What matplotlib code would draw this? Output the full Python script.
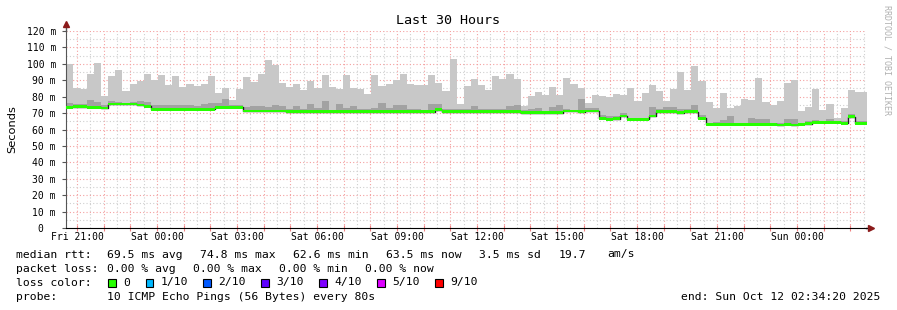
import matplotlib
matplotlib.use("Agg")
import matplotlib.pyplot as plt
from matplotlib.patches import Rectangle
import numpy as np

# smokeping style graph, 30 hours, 16 min consolidated steps
W, H = 897, 310
step_h = 16 / 60.0
span_h = 30.0
first_hour = 25 / 60 + 40 / 3600   # Fri 21:00 after start (Fri 20:34:20)

median = [73.5, 74, 74, 73.5, 73.5, 73.0, 75.6, 75.6, 75.6, 75.6, 75.0, 74.1,
          72.2, 72.2, 72.2, 72.2, 72.2, 72.2, 72.2, 72.2, 72.2, 73.5, 73.5, 73.5,
          73.5, 71.3, 71.3, 71.3, 71.3, 71.3, 71.3, 70.9, 70.9, 70.9, 70.9, 70.9,
          70.9, 70.9, 70.9, 70.9, 70.9, 70.9, 70.9, 70.9, 70.9, 70.9, 70.9, 70.9,
          70.9, 70.9, 70.9, 70.9, 72.0, 70.9, 70.9, 70.9, 70.9, 70.9, 70.9, 70.9,
          70.9, 70.9, 70.9, 70.9, 70.3, 70.3, 70.3, 70.3, 70.3, 70.3, 71.3, 71.3,
          70.9, 71.3, 71.3, 66.8, 66.2, 66.6, 68.2, 66.2, 66.2, 66.2, 68.2, 70.9,
          70.9, 70.9, 70.3, 70.9, 70.9, 66.8, 63.1, 63.1, 63.1, 63.1, 63.1, 63.1,
          63.1, 63.1, 63.1, 63.1, 62.7, 63.1, 62.7, 63.1, 63.6, 64.4, 64.4, 64.4,
          64.4, 63.8, 67.8, 63.8, 63.8]

rtt_max = [100, 85.5, 84.7, 93.8, 100.3, 80.2, 92.6, 96.2, 83.5, 87.7, 89.7, 93.8,
           90.2, 93.2, 87.1, 92.6, 85.9, 87.7, 86.5, 87.7, 92.6, 82.2, 85.5, 78,
           84.9, 92, 88.9, 93.8, 102.3, 99.3, 88.3, 85.9, 87.7, 84, 89.7, 85,
           93.2, 86.1, 84.7, 93.2, 85.5, 84.7, 81.6, 93.2, 86.5, 87.7, 90, 93.8,
           87.7, 87.1, 87.1, 93.2, 88.5, 83.7, 103.1, 75.5, 86.5, 91, 87.1, 84.3,
           92.6, 91, 93.8, 91, 74.5, 80.4, 83, 81, 85.9, 81, 91.6, 87.7,
           85, 76.1, 81, 80.4, 80, 81.6, 81, 85.3, 77.4, 82.2, 87.1, 83.5,
           77.4, 84.9, 95.2, 84, 98.7, 89.7, 76.7, 73.1, 82.2, 73.1, 74.1, 78.6,
           78, 91.4, 76.7, 74.9, 77.4, 88.3, 90.2, 71.1, 73.7, 84.9, 71.9, 75.5,
           67, 73.1, 84.3, 82.8, 82.8]

rtt_mid = [76, 75.5, 75.5, 78, 77, 75, 77.4, 76.8, 76.4, 76.8, 77.4, 76.8,
           75, 75.2, 75.2, 75.2, 74.7, 75.2, 74.3, 75.5, 76, 76, 78.8, 75.2,
           75.2, 74, 74.6, 74.6, 73.9, 75, 74.5, 72.5, 74.5, 72.5, 75.7, 73.3,
           77.6, 71.9, 75.5, 72.9, 74.5, 72.5, 72.5, 73.3, 76.3, 73.3, 75, 75,
           72.5, 72.5, 72.1, 75.5, 75.5, 72.5, 72.5, 72.5, 72.5, 74.5, 72.5, 72.5,
           72.5, 72.5, 74.5, 74.9, 71.9, 72.5, 73.1, 71.3, 74, 75.1, 72.5, 72.1,
           78.8, 73.3, 73.3, 68.8, 68.2, 68.2, 69.8, 67.2, 67.2, 67.2, 73.9, 72.5,
           74, 73.5, 72.5, 72.5, 75, 68.8, 64.1, 64.3, 65.8, 68.2, 64.1, 64.1,
           67, 66.4, 66.4, 64.1, 64.1, 66.4, 66.4, 64.1, 65.2, 65.8, 65.2, 66.4,
           65.2, 65.2, 69.4, 65.2, 65.2]

hour_labels = ["Fri 21:00", "Sat 00:00", "Sat 03:00", "Sat 06:00", "Sat 09:00",
               "Sat 12:00", "Sat 15:00", "Sat 18:00", "Sat 21:00", "Sun 00:00"]
ytick_vals = list(range(0, 121, 10))
ytick_labels = ["0  "] + ["%d m" % v for v in ytick_vals[1:]]

loss_names = ["0", "1/10", "2/10", "3/10", "4/10", "5/10", "9/10"]
loss_colors = ["#26ff00", "#00b8ff", "#0059ff", "#5e00ff", "#7e00ff", "#dd00ff", "#ff0000"]

mono = "DejaVu Sans Mono"
n = len(median)
edges = np.arange(n + 1) * step_h
med = np.append(median, median[-1])
mx = np.append(rtt_max, rtt_max[-1])
md = np.append(rtt_mid, rtt_mid[-1])

fig = plt.figure(figsize=(W / 100, H / 100), dpi=100)
fig.patch.set_facecolor("white")
ax = fig.add_axes([65.6 / W, 82 / H, 800 / W, 197 / H])
ax.set_xlim(0, span_h)
ax.set_ylim(0, 120)

# grid
dot = (0, (1, 2))
for h in np.arange(first_hour + 0.5, span_h, 1.0):
    ax.axvline(h, color="#cfcfcf", lw=0.8, ls=dot, zorder=0)
for h in np.arange(first_hour, span_h, 1.0):
    ax.axvline(h, color="#f4a0a0", lw=0.8, ls=dot, zorder=0)
for v in range(5, 121, 10):
    ax.axhline(v, color="#cfcfcf", lw=0.8, ls=dot, zorder=0)
for v in range(10, 121, 10):
    ax.axhline(v, color="#f4a0a0", lw=0.8, ls=dot, zorder=0)

# smoke
ax.fill_between(edges, med - 0.5, mx, step="post", color="#c8c8c8", lw=0, zorder=1)
ax.fill_between(edges, med - 0.5, md, step="post", color="#a2a2a2", lw=0, zorder=2)
# median
ax.step(edges, med, where="post", color="#202020", lw=1.0, zorder=3)
ax.fill_between(edges, med - 0.8, med + 0.8, step="post", color="#26ff00", lw=0, zorder=4)

# axes
for s in ["top", "right"]:
    ax.spines[s].set_visible(False)
ax.spines["left"].set_color("#555555")
ax.spines["bottom"].set_color("#000000")
ax.plot([0, 0], [1, 1.03], transform=ax.transAxes, color="#555555", lw=1, clip_on=False)
ax.plot([0], [1.035], transform=ax.transAxes, marker="^", color="#8b1a1a", ms=4, clip_on=False)
ax.plot([1, 1.006], [0, 0], transform=ax.transAxes, color="#000000", lw=1, clip_on=False)
ax.plot([1.007], [0], transform=ax.transAxes, marker=">", color="#8b1a1a", ms=4, clip_on=False)

hours = np.arange(first_hour, span_h, 1.0)
ax.set_xticks(hours)
ax.set_xticklabels([hour_labels[i // 3] if i % 3 == 0 else "" for i in range(len(hours))],
                   fontfamily=mono, fontsize=7)
ax.tick_params(axis="x", direction="inout", length=4, color="#f08080", pad=1)
ax.set_yticks(ytick_vals)
ax.set_yticklabels(ytick_labels, fontfamily=mono, fontsize=7)
ax.tick_params(axis="y", direction="out", length=3, color="#555555", pad=4)

def ftext(x, y, s, **kw):
    kw.setdefault("fontfamily", mono)
    kw.setdefault("fontsize", 8.2)
    kw.setdefault("va", "center")
    fig.text(x / W, 1 - y / H, s, **kw)

ftext(448, 20, "Last 30 Hours", ha="center", fontsize=9.6)
ftext(12, 129, "Seconds", ha="center", rotation=90, fontfamily="DejaVu Sans")
ftext(887, 60, "RRDTOOL / TOBI OETIKER", ha="center", rotation=-90, fontsize=6, color="#b0b0b0")

ftext(16, 254.5, "median rtt:")
ftext(107.3, 254.5, "69.5 ms avg")
ftext(200, 254.5, "74.8 ms max")
ftext(293.3, 254.5, "62.6 ms min")
ftext(386, 254.5, "63.5 ms now")
ftext(479.3, 254.5, "3.5 ms sd")
ftext(558.3, 254.5, "19.7")
ftext(607.3, 254.5, "am/s")

ftext(16, 268.5, "packet loss:")
ftext(107.3, 268.5, "0.00 % avg")
ftext(193.3, 268.5, "0.00 % max")
ftext(279.3, 268.5, "0.00 % min")
ftext(365.3, 268.5, "0.00 % now")

ftext(16, 282.5, "loss color:")
box_x = [108.3, 145.7, 203.3, 261.3, 319.3, 377.3, 435.3]
for bx, name, col in zip(box_x, loss_names, loss_colors):
    fig.patches.append(Rectangle((bx / W, 1 - 286.7 / H), 7.5 / W, 8 / H,
                                 transform=fig.transFigure, facecolor=col,
                                 edgecolor="black", lw=0.8))
    ftext(bx + 15, 282.5, name)

ftext(16, 296.5, "probe:")
ftext(107.3, 296.5, "10 ICMP Echo Pings (56 Bytes) every 80s")
ftext(880.7, 296.5, "end: Sun Oct 12 02:34:20 2025", ha="right")

fig.savefig("out.png", dpi=100)
